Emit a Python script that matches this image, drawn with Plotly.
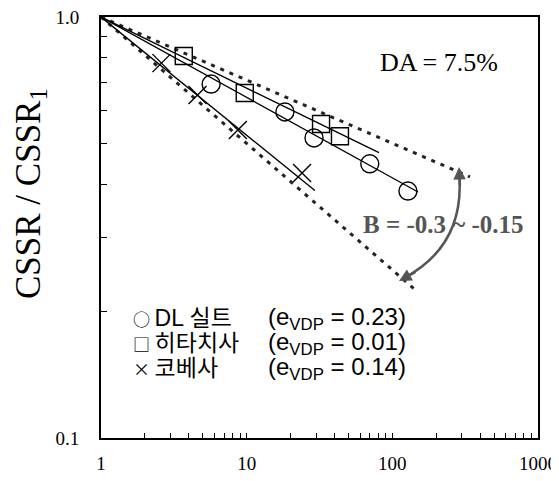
import plotly.graph_objects as go

# ---- data ----
dl_x = [5.7, 18.3, 29.0, 70.0, 128.0]
dl_y = [0.693, 0.595, 0.516, 0.448, 0.386]
hit_x = [3.7, 9.7, 32.4, 43.7]
hit_y = [0.808, 0.660, 0.557, 0.521]
kobe_x = [2.6, 4.6, 8.7, 24.0]
kobe_y = [0.777, 0.653, 0.539, 0.426]

# trend lines (start at 1,1)
dl_fit_x = [1, 150]
dl_fit_y = [1, 0.384]
hit_fit_x = [1, 81]
hit_fit_y = [1, 0.476]
kobe_fit_x = [1, 29.4]
kobe_fit_y = [1, 0.387]
# bounding lines B = -0.15 and B = -0.3
upper_x = [1, 341]
upper_y = [1, 0.417]
lower_x = [1, 150]
lower_y = [1, 0.222]

x_tickvals = [1, 2, 3, 4, 5, 6, 7, 8, 9, 10, 20, 30, 40, 50, 60, 70, 80, 90,
              100, 200, 300, 400, 500, 600, 700, 800, 900, 1000]
x_ticktext = ["1", "", "", "", "", "", "", "", "", "10", "", "", "", "", "", "", "", "",
              "100", "", "", "", "", "", "", "", "", "1000"]
y_tickvals = [0.1, 0.2, 0.3, 0.4, 0.5, 0.6, 0.7, 0.8, 0.9, 1.0]
y_ticktext = ["0.1", "", "", "", "", "", "", "", "", "1.0"]

legend_symbols = ["\u25CB", "\u25A1", "\u00D7"]
legend_names = ["DL 실트", "히타치사", "코베사"]
legend_evdp = ["0.23", "0.01", "0.14"]

# The page body has an 8px margin: size the figure so it fits in the window.
OFF = 8
W, H = 559 - OFF, 481 - OFF
# plot area in window pixels: x 101..538, y 17..438
PL, PR, PT, PB = 101, 538, 17, 438
L, R, T, B = PL - OFF, W - (PR - OFF), PT - OFF, H - (PB - OFF)
PW, PH = PR - PL, PB - PT


def px(x):
    return (x - PL) / PW


def py(y):
    return (PB - y) / PH


SERIF = "Liberation Serif, Times New Roman, serif"
SANS = "Liberation Sans, Arial, Noto Sans CJK KR, sans-serif"

fig = go.Figure()

dash_style = dict(color="#222222", width=3, dash="4px,6px")
fig.add_trace(go.Scatter(x=upper_x, y=upper_y, mode="lines", line=dash_style, showlegend=False))
fig.add_trace(go.Scatter(x=lower_x, y=lower_y, mode="lines", line=dash_style, showlegend=False))

line_style = dict(color="black", width=1.4)
for fx, fy in [(dl_fit_x, dl_fit_y), (hit_fit_x, hit_fit_y), (kobe_fit_x, kobe_fit_y)]:
    fig.add_trace(go.Scatter(x=fx, y=fy, mode="lines", line=line_style, showlegend=False))

mk_line = dict(color="black", width=1.4)
fig.add_trace(go.Scatter(x=dl_x, y=dl_y, mode="markers",
                         marker=dict(symbol="circle-open", size=18, color="black", line=mk_line),
                         showlegend=False))
fig.add_trace(go.Scatter(x=hit_x, y=hit_y, mode="markers",
                         marker=dict(symbol="square-open", size=17, color="black", line=mk_line),
                         showlegend=False))
fig.add_trace(go.Scatter(x=kobe_x, y=kobe_y, mode="markers",
                         marker=dict(symbol="x-thin-open", size=18, color="black", line=mk_line),
                         showlegend=False))

annotations = []
annotations.append(dict(x=px(439), y=py(62), xref="paper", yref="paper", text="DA = 7.5%",
                        xanchor="center", yanchor="middle",
                        showarrow=False, font=dict(family=SERIF, size=26, color="black")))
annotations.append(dict(x=px(443), y=py(224), xref="paper", yref="paper",
                        text="<b>B = -0.3 ~ -0.15</b>", showarrow=False,
                        xanchor="center", yanchor="middle",
                        font=dict(family=SERIF, size=25, color="#555555")))
annotations.append(dict(x=px(31), y=py(194), xref="paper", yref="paper",
                        text="CSSR / CSSR<sub>1</sub>", textangle=-90, showarrow=False,
                        xanchor="center", yanchor="middle",
                        font=dict(family=SERIF, size=35, color="black")))

rows_y = [318, 343, 368]
for sym, name, ev, ry in zip(legend_symbols, legend_names, legend_evdp, rows_y):
    annotations.append(dict(x=px(131), y=py(ry), xref="paper", yref="paper",
                            text="<span style='font-family:Noto Sans CJK KR;font-size:17px'>"
                                 + sym + "</span>\u2009" + name,
                            xanchor="left", yanchor="middle", showarrow=False,
                            font=dict(family=SANS, size=23, color="black")))
    annotations.append(dict(x=px(408), y=py(ry), xref="paper", yref="paper",
                            text="(e<sub>VDP</sub> = " + ev + ")",
                            xanchor="right", yanchor="middle", showarrow=False,
                            font=dict(family=SANS, size=24, color="black")))

# arrow heads of the curved double arrow
annotations.append(dict(x=px(459), y=py(167), xref="paper", yref="paper", text="",
                        showarrow=True, arrowhead=2, arrowsize=1, arrowwidth=2.5,
                        arrowcolor="#555555", ax=1, ay=20))
annotations.append(dict(x=px(399), y=py(281), xref="paper", yref="paper", text="",
                        showarrow=True, arrowhead=2, arrowsize=1, arrowwidth=2.5,
                        arrowcolor="#555555", ax=18, ay=-10))

shapes = [dict(type="path", xref="paper", yref="paper",
               path=f"M {px(459)},{py(172)} Q {px(466)},{py(245)} {px(404)},{py(278)}",
               line=dict(color="#555555", width=2.5))]

fig.update_layout(
    width=W, height=H,
    margin=dict(l=L, r=R, t=T, b=B),
    paper_bgcolor="white", plot_bgcolor="white",
    annotations=annotations, shapes=shapes,
    showlegend=False,
)
fig.update_xaxes(type="log", range=[0, 3], showgrid=False, zeroline=False, automargin=False,
                 showline=True, linecolor="black", linewidth=2, mirror=True,
                 ticks="inside", ticklen=5, tickwidth=1.3, tickcolor="black",
                 tickvals=x_tickvals, ticktext=x_ticktext, ticklabelstandoff=7,
                 ticklabeloverflow="allow",
                 tickfont=dict(family=SERIF, size=19, color="black"))
fig.update_yaxes(type="log", range=[-1, 0], showgrid=False, zeroline=False, automargin=False,
                 showline=True, linecolor="black", linewidth=2, mirror=True,
                 ticks="inside", ticklen=6, tickwidth=1.3, tickcolor="black",
                 tickvals=y_tickvals, ticktext=y_ticktext, ticklabelstandoff=16,
                 ticklabeloverflow="allow",
                 tickfont=dict(family=SERIF, size=19, color="black"))

fig.write_html("out.html")
